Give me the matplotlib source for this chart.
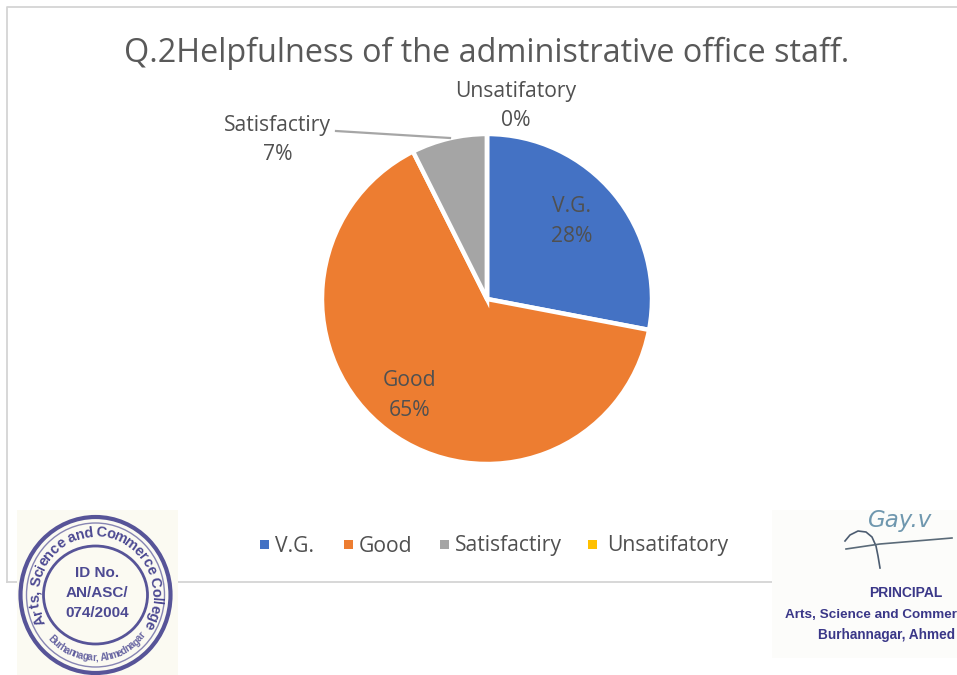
import numpy as np
import matplotlib
matplotlib.use("Agg")
import matplotlib.pyplot as plt
from matplotlib.patches import Rectangle, Ellipse
from matplotlib.textpath import TextPath
from matplotlib.font_manager import FontProperties

W, H = 957, 675
categories = ["V.G.", "Good", "Satisfactiry", "Unsatifatory"]
values = [28.0, 64.6, 7.4, 0]
colors = ["#4472C4", "#ED7D31", "#A5A5A5", "#FFC000"]
title = "Q.2Helpfulness of the administrative office staff."
stamp_top = "Arts, Science and Commerce College"
stamp_bottom = "Burhannagar, Ahmednagar"
stamp_mid = ["ID No.", "AN/ASC/", "074/2004"]
TXT = "#505050"
INK = "#3A3788"
FONT = ["Open Sans", "DejaVu Sans"]
plt.rcParams["font.family"] = FONT

fig = plt.figure(figsize=(W / 100, H / 100), dpi=100, facecolor="white")

bg = fig.add_axes([0, 0, 1, 1], zorder=0)
bg.set_xlim(0, W); bg.set_ylim(H, 0); bg.axis("off")
bg.plot([7, 7, W], [582, 7, 7], color="#D4D4D4", lw=1.3)
bg.plot([7, W], [582, 582], color="#D4D4D4", lw=1.3)

cx, cy, r = 487, 299, 165
ax = fig.add_axes([(cx - r) / W, 1 - (cy + r) / H, 2 * r / W, 2 * r / H], zorder=1)
ax.pie(values, colors=colors, startangle=90, counterclock=False, radius=1,
       wedgeprops=dict(edgecolor="white", linewidth=3.2))
ax.set_xlim(-1, 1); ax.set_ylim(-1, 1)

ov = fig.add_axes([0, 0, 1, 1], zorder=2)
ov.set_xlim(0, W); ov.set_ylim(H, 0); ov.axis("off"); ov.patch.set_alpha(0)

ov.text(486.5, 53, title, ha="center", va="center", fontsize=23.3, color="#595959")

LS = 15.2
def lab(x, y1, y2, name, pct):
    ov.text(x, y1, name, ha="center", va="center", fontsize=LS, color=TXT)
    ov.text(x, y2, pct, ha="center", va="center", fontsize=LS, color=TXT)

total = sum(values)
pct = [f"{round(v * 100 / total)}%" for v in values]
lab(572, 206.5, 236.5, categories[0], pct[0])
lab(409.5, 380.5, 410.5, categories[1], pct[1])
lab(277.5, 126, 155, categories[2], pct[2])
lab(516, 92, 121, categories[3], pct[3])
ov.plot([336, 450], [131, 138], color="#A6A6A6", lw=1.6)

for x, c, n, tx in zip([264, 348, 444, 592], colors, categories, [275, 359, 455, 607]):
    ov.add_patch(Rectangle((x - 4.5, 540), 9, 9, color=c, lw=0))
    ov.text(tx, 546, n, ha="left", va="center", fontsize=LS, color=TXT)

# stamp
ov.add_patch(Rectangle((17, 510), 161, 165, facecolor="#FBFAF2", edgecolor="none"))
sx, sy = 95.5, 595
ov.add_patch(Ellipse((sx, sy), 150, 156, fill=False, ec=INK, lw=3, alpha=.85))
ov.add_patch(Ellipse((sx, sy), 138, 144, fill=False, ec=INK, lw=1.0, alpha=.6))
ov.add_patch(Ellipse((sx, sy), 104, 98, fill=False, ec=INK, lw=2, alpha=.85))
MID = dict(ha="center", va="center", fontweight="bold", color=INK, family="Liberation Sans")
for i, s in enumerate(stamp_mid):
    ov.text(97, 573 + i * 20, s, fontsize=11, alpha=.9, **MID)

def advances(s, fs):
    fp = FontProperties(family="Liberation Sans", weight="bold", size=fs)
    out = []
    for ch in s:
        if ch == " ":
            out.append(fs * 0.3)
        else:
            bb = TextPath((0, 0), ch, prop=fp).get_extents()
            out.append(bb.width + fs * 0.14)
    return np.array(out)

def ring(s, a0, a1, rad, fs, flip, alpha):
    adv = advances(s, fs)
    pos = (np.cumsum(adv) - adv / 2) / adv.sum()
    for ch, f in zip(s, pos):
        a = a0 + (a1 - a0) * f
        t = np.deg2rad(a)
        rot = -a - 180 if flip else -a
        ov.text(sx + rad * np.sin(t), sy - rad * 1.03 * np.cos(t), ch, rotation=rot,
                rotation_mode="anchor", fontsize=fs, alpha=alpha, **MID)

ring(stamp_top, -118, 122, 60.5, 10.5, False, .9)
ring(stamp_bottom, -132, -232, 61, 7, True, .75)

# signature
ov.add_patch(Rectangle((772, 510), 185, 148, facecolor="#FCFCFA", edgecolor="none"))
ov.plot([845, 850, 858, 866, 872, 876, 878, 880],
        [541, 535, 531, 532, 537, 546, 556, 568], color="#4C5C70", lw=1.2)
ov.plot([846, 880, 952], [549, 544, 538], color="#5A6A78", lw=1.2)
ov.text(900, 521, "Gay.v", ha="center", va="center", fontsize=16.5, style="italic",
        color="#6F97AE", family="DejaVu Sans")
ov.text(906, 593, "PRINCIPAL", fontsize=10, **MID)
ov.text(785, 615, "Arts, Science and Commer", ha="left", va="center", fontsize=9.7,
        fontweight="bold", color=INK, family="Liberation Sans")
ov.text(818, 635, "Burhannagar, Ahmed", ha="left", va="center", fontsize=9.8,
        fontweight="bold", color=INK, family="Liberation Sans")

fig.savefig("out.png", dpi=100)
